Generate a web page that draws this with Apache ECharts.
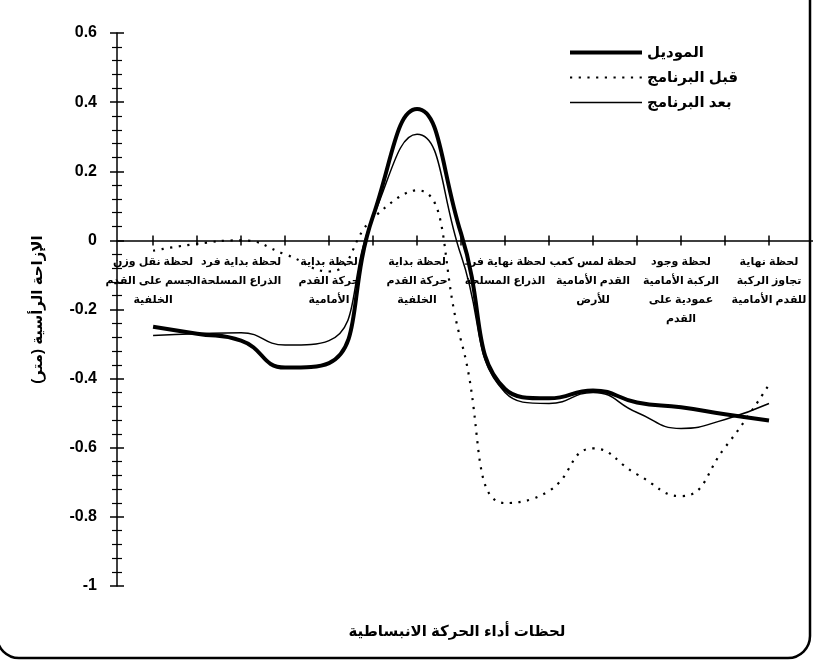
<!DOCTYPE html>
<html>
<head>
<meta charset="utf-8">
<script src="https://cdn.jsdelivr.net/npm/echarts@6/dist/echarts.min.js"></script>
<style>
  html, body { margin: 0; padding: 0; background: #fff; }
  #main { width: 813px; height: 662px; }
</style>
</head>
<body>
<div id="main"></div>
<script>
// positions along the x axis (every tick), labels sit on every second one
var positions = [0, 1, 2, 3, 4, 5, 6, 7, 8, 9, 10, 11, 12, 13, 14];
var labelPositions = [0, 2, 4, 6, 8, 10, 12, 14];
var categories = [
  'لحظة نقل وزن\nالجسم على القدم\nالخلفية',
  'لحظة بداية فرد\nالذراع المسلحة',
  'لحظة بداية\nحركة القدم\nالأمامية',
  'لحظة بداية\nحركة القدم\nالخلفية',
  'لحظة نهاية فرد\nالذراع المسلحة',
  'لحظة لمس كعب\nالقدم الأمامية\nللأرض',
  'لحظة وجود\nالركبة الأمامية\nعمودية على\nالقدم',
  'لحظة نهاية\nتجاوز الركبة\nللقدم الأمامية'
];

var modelValues  = [-0.25, -0.27, -0.29, -0.368, -0.355, 0.07, 0.38, 0.02, -0.43, -0.457, -0.434, -0.469, -0.483, -0.503, -0.521];
var beforeValues = [-0.03, -0.01, 0.0, -0.04, -0.09, 0.064, 0.145, -0.29, -0.76, -0.725, -0.602, -0.677, -0.74, -0.599, -0.417];
var afterValues  = [-0.275, -0.27, -0.267, -0.303, -0.29, 0.067, 0.307, -0.043, -0.44, -0.472, -0.44, -0.498, -0.544, -0.518, -0.472];

var seriesNames = ['الموديل', 'قبل البرنامج', 'بعد البرنامج'];

function pairs(vals) {
  return positions.map(function (p, i) { return [p, vals[i]]; });
}

var font = '"Liberation Sans", "DejaVu Sans", Arial, sans-serif';

var dom = document.getElementById('main');
var myChart = echarts.init(dom);

var option = {
  backgroundColor: '#ffffff',
  animation: false,
  textStyle: { fontFamily: font, color: '#000' },
  title: {
    text: 'لحظات أداء الحركة الانبساطية',
    left: 452,
    top: 619,
    textAlign: 'center',
    textStyle: { fontFamily: font, fontSize: 15, fontWeight: 'bold', color: '#000' }
  },
  legend: {
    orient: 'vertical',
    left: 563,
    top: 40,
    itemWidth: 72,
    itemHeight: 14,
    itemGap: 10,
    itemStyle: { color: 'transparent', borderWidth: 0, opacity: 0 },
    textStyle: { fontFamily: font, fontSize: 15, fontWeight: 'bold', color: '#000' },
    data: [
      { name: seriesNames[0], lineStyle: { color: '#000', width: 4 } },
      { name: seriesNames[1], lineStyle: { color: '#000', width: 2.2, type: [2.2, 6.5] } },
      { name: seriesNames[2], lineStyle: { color: '#000', width: 1.5 } }
    ]
  },
  grid: [
    { left: 117, right: 0, top: 33, bottom: 76 },
    // strip whose bottom edge sits on the zero line, used only for the category labels
    { left: 117, right: 0, top: 200, height: 40 }
  ],
  xAxis: [
    {
      type: 'value',
      min: -0.82,
      max: 15,
      axisLine: { onZero: true, lineStyle: { color: '#000', width: 1.5 } },
      axisTick: { show: true, customValues: positions, length: 5, lineStyle: { color: '#000', width: 1.5 } },
      axisLabel: { show: false },
      splitLine: { show: false }
    },
    {
      type: 'value',
      min: -0.82,
      max: 15,
      position: 'bottom',
      axisLine: { show: false, onZero: true },
      axisTick: { show: true, inside: true, customValues: positions, length: 5, lineStyle: { color: '#000', width: 1.5 } },
      axisLabel: { show: false },
      splitLine: { show: false }
    },
    {
      type: 'value',
      gridIndex: 1,
      min: -0.82,
      max: 15,
      position: 'bottom',
      axisLine: { show: false, onZero: false },
      axisTick: { show: false },
      axisLabel: {
        customValues: labelPositions,
        margin: 12,
        fontFamily: font,
        fontSize: 11,
        fontWeight: 'bold',
        color: '#000',
        lineHeight: 19,
        align: 'center',
        formatter: function (v) {
          var i = labelPositions.indexOf(Math.round(v));
          return i >= 0 ? categories[i] : '';
        }
      },
      splitLine: { show: false }
    }
  ],
  yAxis: [
    {
      type: 'value',
      min: -1,
      max: 0.6,
      interval: 0.2,
      name: 'الإزاحة الرأسية (متر)',
      nameLocation: 'middle',
      nameGap: 72,
      nameRotate: 90,
      nameTextStyle: { fontFamily: font, fontSize: 15, fontWeight: 'bold', color: '#000' },
      axisLine: { show: true, onZero: false, lineStyle: { color: '#000', width: 1.5 } },
      axisTick: { show: true, length: 7, lineStyle: { color: '#000', width: 1.5 } },
      minorTick: { show: true, splitNumber: 5, length: 5, lineStyle: { color: '#000', width: 1.2 } },
      axisLabel: {
        margin: 20,
        fontFamily: font,
        fontSize: 16,
        fontWeight: 'bold',
        color: '#000'
      },
      splitLine: { show: false }
    },
    {
      type: 'value',
      min: -1,
      max: 0.6,
      interval: 0.2,
      position: 'left',
      axisLine: { show: false, onZero: false },
      axisTick: { show: true, inside: true, length: 7, lineStyle: { color: '#000', width: 1.5 } },
      minorTick: { show: true, splitNumber: 5, length: 5, lineStyle: { color: '#000', width: 1.2 } },
      axisLabel: { show: false },
      splitLine: { show: false }
    },
    {
      type: 'value',
      gridIndex: 1,
      min: 0,
      max: 1,
      show: false
    }
  ],
  series: [
    {
      name: seriesNames[0],
      type: 'line',
      smooth: true,
      symbol: 'none',
      color: '#000',
      lineStyle: { color: '#000', width: 4 },
      data: pairs(modelValues)
    },
    {
      name: seriesNames[1],
      type: 'line',
      smooth: true,
      symbol: 'none',
      color: '#000',
      lineStyle: { color: '#000', width: 2.2, type: [2.2, 6.5] },
      data: pairs(beforeValues)
    },
    {
      name: seriesNames[2],
      type: 'line',
      smooth: true,
      symbol: 'none',
      color: '#000',
      lineStyle: { color: '#000', width: 1.5 },
      data: pairs(afterValues)
    }
  ],
  graphic: [
    {
      type: 'rect',
      silent: true,
      z: 100,
      shape: { x: -3, y: -30, width: 813, height: 688, r: 22 },
      style: { fill: 'none', stroke: '#000', lineWidth: 2.5 }
    }
  ]
};

if (option && typeof option === 'object') {
  myChart.setOption(option);
}

window.onresize = function () {
  myChart.resize();
};
</script>
</body>
</html>
